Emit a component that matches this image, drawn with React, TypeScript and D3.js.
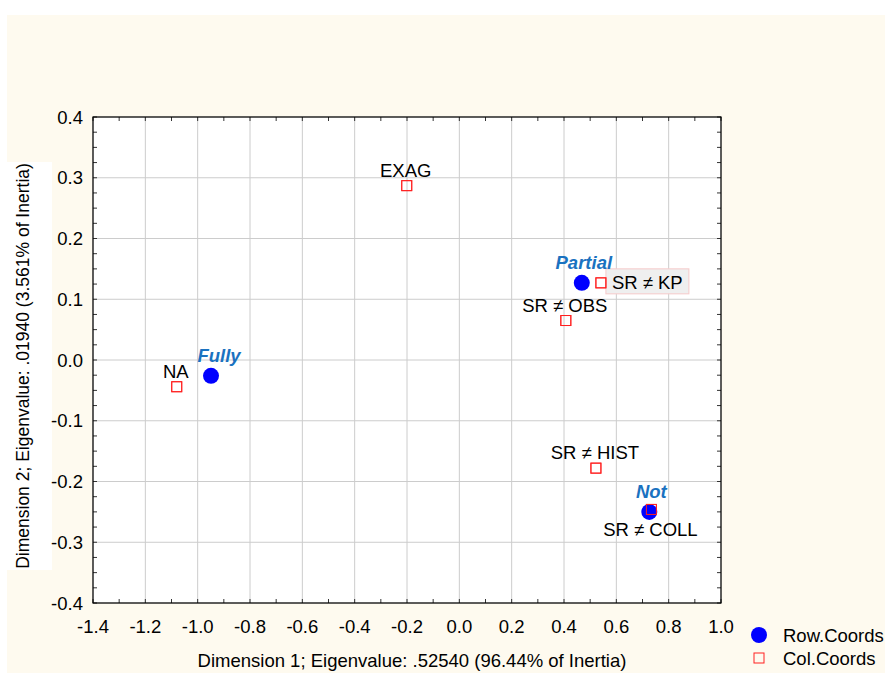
import React from "react";
import * as d3 from "d3";

const rowNames = ["Fully", "Partial", "Not"];
const rowX = [-0.949, 0.468, 0.726];
const rowY = [-0.026, 0.127, -0.25];

const colNames = ["NA", "EXAG", "SR ≠ KP", "SR ≠ OBS", "SR ≠ HIST", "SR ≠ COLL"];
const colX = [-1.08, -0.201, 0.541, 0.407, 0.522, 0.734];
const colY = [-0.044, 0.287, 0.127, 0.065, -0.178, -0.246];
const colLabelPos = ["above", "above", "right", "above", "above", "below"];

const xTicks = [-1.4, -1.2, -1.0, -0.8, -0.6, -0.4, -0.2, 0.0, 0.2, 0.4, 0.6, 0.8, 1.0];
const yTicks = [-0.4, -0.3, -0.2, -0.1, 0.0, 0.1, 0.2, 0.3, 0.4];

const xTitle = "Dimension 1; Eigenvalue: .52540 (96.44% of Inertia)";
const yTitle = "Dimension 2; Eigenvalue:  .01940 (3.561% of Inertia)";

const W = 885, H = 673;
const L = 93, R = 721, T = 117, B = 603;
const FONT = "'Liberation Sans', Arial, Helvetica, sans-serif";
const BLUE_TXT = "#1a72c0";
const FS = 18.5;

function fmt(v: number) {
  const s = v.toFixed(1);
  return s === "-0.0" ? "0.0" : s;
}

export default function App() {
  const x = d3.scaleLinear().domain([-1.4, 1.0]).range([L, R]);
  const y = d3.scaleLinear().domain([-0.4, 0.4]).range([B, T]);
  const xMinor = d3.range(0, 25).map((i) => -1.4 + i * 0.1);
  const yMinor = d3.range(0, 33).map((i) => -0.4 + i * 0.025);

  return (
    <svg width={W} height={H} style={{ position: "absolute", left: 0, top: 0 }} fontFamily={FONT}>
      <rect x={0} y={0} width={W} height={H} fill="#ffffff" />
      <rect x={7} y={15} width={W - 7} height={H - 15} fill="#fefaef" />
      <rect x={7} y={162} width={45} height={408} fill="#ffffff" />
      <rect x={L} y={T} width={R - L} height={B - T} fill="#ffffff" />
      {xTicks.map((t, i) => (
        <line key={"gx" + i} x1={x(t)} x2={x(t)} y1={T} y2={B} stroke="#cccccc" strokeWidth={1} />
      ))}
      {yTicks.map((t, i) => (
        <line key={"gy" + i} x1={L} x2={R} y1={y(t)} y2={y(t)} stroke="#cccccc" strokeWidth={1} />
      ))}
      {xMinor.map((t, i) => (
        <g key={"xm" + i}>
          <line x1={x(t)} x2={x(t)} y1={T} y2={T + 4} stroke="#333" />
          <line x1={x(t)} x2={x(t)} y1={B} y2={B - 4} stroke="#333" />
        </g>
      ))}
      {yMinor.map((t, i) => (
        <g key={"ym" + i}>
          <line x1={L} x2={L + 4} y1={y(t)} y2={y(t)} stroke="#333" />
          <line x1={R} x2={R - 4} y1={y(t)} y2={y(t)} stroke="#333" />
        </g>
      ))}
      <rect x={L} y={T} width={R - L} height={B - T} fill="none" stroke="#000" strokeWidth={1.2} />
      {xTicks.map((t, i) => (
        <text key={"xl" + i} x={x(t)} y={B + 30} fontSize={FS} textAnchor="middle" fill="#000">
          {fmt(t)}
        </text>
      ))}
      {yTicks.map((t, i) => (
        <text key={"yl" + i} x={L - 10} y={y(t) + 6.5} fontSize={FS} textAnchor="end" fill="#000">
          {fmt(t)}
        </text>
      ))}
      <text x={412} y={667} fontSize={FS} textAnchor="middle" fill="#000">
        {xTitle}
      </text>
      <text
        transform={`translate(29, ${(162 + 570) / 2}) rotate(-90)`}
        fontSize={17.5}
        textAnchor="middle"
        fill="#000"
      >
        {yTitle}
      </text>

      {/* column points */}
      {colNames.map((n, i) => {
        const cx = x(colX[i]);
        const cy = y(colY[i]);
        const pos = colLabelPos[i];
        return (
          <g key={"c" + i}>
            {pos === "right" && (
              <rect x={cx + 5} y={cy - 14} width={83} height={25} fill="#efefef" stroke="#f6caca" strokeWidth={1} />
            )}
            <rect x={cx - 5} y={cy - 5} width={10} height={10} fill="none" stroke="#ff2020" strokeWidth={1} />
          </g>
        );
      })}
      {/* row points */}
      {rowNames.map((n, i) => (
        <circle key={"r" + i} cx={x(rowX[i])} cy={y(rowY[i])} r={8} fill="#0000ff" />
      ))}
      {colNames.map((n, i) => {
        const cx = x(colX[i]);
        const cy = y(colY[i]);
        return (
          <rect key={"co" + i} x={cx - 5} y={cy - 5} width={10} height={10} fill="none" stroke="#ff2020" strokeWidth={1} />
        );
      })}
      {colNames.map((n, i) => {
        const cx = x(colX[i]);
        const cy = y(colY[i]);
        const pos = colLabelPos[i];
        if (pos === "right")
          return (
            <text key={"cl" + i} x={cx + 11} y={cy + 6.5} fontSize={FS} fill="#000">
              {n}
            </text>
          );
        if (pos === "below")
          return (
            <text key={"cl" + i} x={cx - 1} y={cy + 27} fontSize={FS} textAnchor="middle" fill="#000">
              {n}
            </text>
          );
        return (
          <text key={"cl" + i} x={cx - 1} y={cy - 9} fontSize={FS} textAnchor="middle" fill="#000">
            {n}
          </text>
        );
      })}
      {rowNames.map((n, i) => (
        <text
          key={"rl" + i}
          x={x(rowX[i]) + (i === 0 ? 8 : 2)}
          y={y(rowY[i]) - 14}
          fontSize={FS}
          fontWeight="bold"
          fontStyle="italic"
          textAnchor="middle"
          fill={BLUE_TXT}
        >
          {n}
        </text>
      ))}

      {/* legend */}
      <circle cx={759} cy={635} r={8} fill="#0000ff" />
      <text x={783} y={642} fontSize={FS} fill="#000">Row.Coords</text>
      <rect x={754} y={653} width={10} height={10} fill="none" stroke="#ff2020" strokeWidth={1} />
      <text x={783} y={665} fontSize={FS} fill="#000">Col.Coords</text>
    </svg>
  );
}
